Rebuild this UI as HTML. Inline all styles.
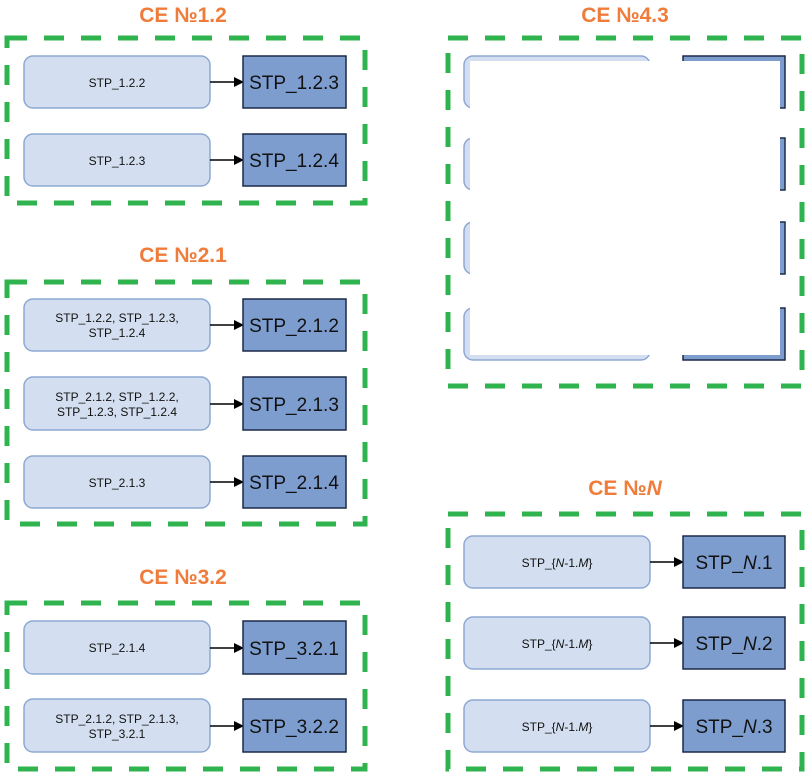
<!DOCTYPE html>
<html><head><meta charset="utf-8"><style>
html,body{margin:0;padding:0;background:#fff;}
svg{display:block;font-family:"Liberation Sans",Arial,sans-serif;}
.d{fill:none;stroke:#2fb34f;stroke-width:5;stroke-dasharray:20 17;}
.l{fill:#d3dff0;stroke:#8da8d2;stroke-width:1.5;}
.k{fill:#7d9dcf;stroke:#1c2a48;stroke-width:1.5;}
.t{font-size:12px;fill:#111;text-anchor:middle;}
.b{font-size:19px;fill:#111;text-anchor:middle;}
.h{font-size:21px;font-weight:bold;fill:#f07c3c;text-anchor:middle;}
.a{stroke:#000;stroke-width:1.6;}
</style></head><body>
<svg width="810" height="777" viewBox="0 0 810 777" xmlns="http://www.w3.org/2000/svg">
<defs><marker id="m" markerWidth="10" markerHeight="10" refX="9" refY="5" orient="auto" markerUnits="userSpaceOnUse"><path d="M0,0 L10,5 L0,10 z" fill="#000"/></marker></defs>

<!-- CE 1.2 -->
<text class="h" x="183" y="22">CE №1.2</text>
<rect class="d" x="7" y="38" width="358" height="165"/>
<rect class="l" x="24" y="56" width="186" height="52" rx="9"/>
<text class="t" x="117" y="87">STP_1.2.2</text>
<line class="a" x1="210" y1="82" x2="243" y2="82" marker-end="url(#m)"/>
<rect class="k" x="243" y="56" width="103" height="52"/>
<text class="b" x="294" y="89">STP_1.2.3</text>
<rect class="l" x="24" y="134" width="186" height="52" rx="9"/>
<text class="t" x="117" y="165">STP_1.2.3</text>
<line class="a" x1="210" y1="160" x2="243" y2="160" marker-end="url(#m)"/>
<rect class="k" x="243" y="134" width="103" height="52"/>
<text class="b" x="294" y="167">STP_1.2.4</text>

<!-- CE 2.1 -->
<text class="h" x="183" y="262">CE №2.1</text>
<rect class="d" x="7" y="282" width="358" height="242"/>
<rect class="l" x="24" y="299" width="186" height="52" rx="9"/>
<text class="t" x="117" y="322">STP_1.2.2,  STP_1.2.3,</text>
<text class="t" x="117" y="337">STP_1.2.4</text>
<line class="a" x1="210" y1="325" x2="243" y2="325" marker-end="url(#m)"/>
<rect class="k" x="243" y="299" width="103" height="52"/>
<text class="b" x="294" y="332">STP_2.1.2</text>
<rect class="l" x="24" y="377" width="186" height="53" rx="9"/>
<text class="t" x="117" y="401">STP_2.1.2,  STP_1.2.2,</text>
<text class="t" x="117" y="416">STP_1.2.3,  STP_1.2.4</text>
<line class="a" x1="210" y1="404" x2="243" y2="404" marker-end="url(#m)"/>
<rect class="k" x="243" y="377" width="103" height="53"/>
<text class="b" x="294" y="411">STP_2.1.3</text>
<rect class="l" x="24" y="456" width="186" height="52" rx="9"/>
<text class="t" x="117" y="487">STP_2.1.3</text>
<line class="a" x1="210" y1="482" x2="243" y2="482" marker-end="url(#m)"/>
<rect class="k" x="243" y="456" width="103" height="52"/>
<text class="b" x="294" y="489">STP_2.1.4</text>

<!-- CE 3.2 -->
<text class="h" x="183" y="584">CE №3.2</text>
<rect class="d" x="7" y="603" width="358" height="166"/>
<rect class="l" x="24" y="621" width="186" height="53" rx="9"/>
<text class="t" x="117" y="652">STP_2.1.4</text>
<line class="a" x1="210" y1="648" x2="243" y2="648" marker-end="url(#m)"/>
<rect class="k" x="243" y="621" width="103" height="53"/>
<text class="b" x="294" y="655">STP_3.2.1</text>
<rect class="l" x="24" y="699" width="186" height="53" rx="9"/>
<text class="t" x="117" y="723">STP_2.1.2,  STP_2.1.3,</text>
<text class="t" x="117" y="738">STP_3.2.1</text>
<line class="a" x1="210" y1="726" x2="243" y2="726" marker-end="url(#m)"/>
<rect class="k" x="243" y="699" width="103" height="53"/>
<text class="b" x="294" y="733">STP_3.2.2</text>

<!-- CE 4.3 -->
<text class="h" x="625" y="22">CE №4.3</text>
<rect class="d" x="448" y="38" width="354" height="348"/>
<rect class="l" x="464" y="56" width="186" height="52" rx="9"/>
<rect class="k" x="683" y="56" width="102" height="52"/>
<rect class="l" x="464" y="138" width="186" height="52" rx="9"/>
<rect class="k" x="683" y="138" width="102" height="52"/>
<rect class="l" x="464" y="222" width="186" height="52" rx="9"/>
<rect class="k" x="683" y="222" width="102" height="52"/>
<rect class="l" x="464" y="308" width="186" height="52" rx="9"/>
<rect class="k" x="683" y="308" width="102" height="52"/>
<rect x="470" y="61" width="310" height="294" fill="#fff"/>

<!-- CE N -->
<text class="h" x="625" y="495">CE №<tspan font-style="italic">N</tspan></text>
<rect class="d" x="448" y="514" width="354" height="255"/>
<rect class="l" x="464" y="536" width="186" height="52" rx="9"/>
<text class="t" x="557" y="567">STP_{<tspan font-style="italic">N</tspan>-1.<tspan font-style="italic">M</tspan>}</text>
<line class="a" x1="650" y1="562" x2="683" y2="562" marker-end="url(#m)"/>
<rect class="k" x="683" y="536" width="102" height="52"/>
<text class="b" x="734" y="569">STP_<tspan font-style="italic">N</tspan>.1</text>
<rect class="l" x="464" y="617" width="186" height="52" rx="9"/>
<text class="t" x="557" y="648">STP_{<tspan font-style="italic">N</tspan>-1.<tspan font-style="italic">M</tspan>}</text>
<line class="a" x1="650" y1="643" x2="683" y2="643" marker-end="url(#m)"/>
<rect class="k" x="683" y="617" width="102" height="52"/>
<text class="b" x="734" y="650">STP_<tspan font-style="italic">N</tspan>.2</text>
<rect class="l" x="464" y="700" width="186" height="52" rx="9"/>
<text class="t" x="557" y="731">STP_{<tspan font-style="italic">N</tspan>-1.<tspan font-style="italic">M</tspan>}</text>
<line class="a" x1="650" y1="726" x2="683" y2="726" marker-end="url(#m)"/>
<rect class="k" x="683" y="700" width="102" height="52"/>
<text class="b" x="734" y="733">STP_<tspan font-style="italic">N</tspan>.3</text>
</svg>
</body></html>
